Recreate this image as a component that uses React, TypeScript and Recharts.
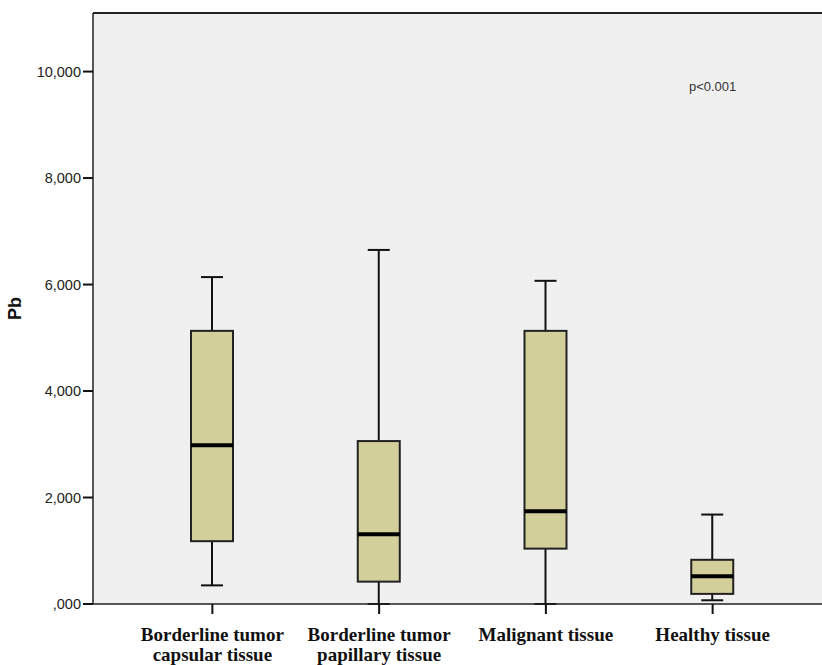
import React from "react";
import { Bar, CartesianGrid, ComposedChart, ReferenceDot, ReferenceLine, XAxis, YAxis } from "recharts";

// one entry per tissue group, label lines split on "\n"
const categories = [
    "Borderline tumor\ncapsular tissue",
    "Borderline tumor\npapillary tissue",
    "Malignant tissue",
    "Healthy tissue",
];
const mins = [0.35, 0, 0, 0.07];
const q1s = [1.18, 0.42, 1.04, 0.19];
const medians = [2.98, 1.31, 1.74, 0.52];
const q3s = [5.13, 3.06, 5.13, 0.83];
const maxs = [6.14, 6.65, 6.07, 1.68];

const yTicks = [0, 2, 4, 6, 8, 10];
const yMax = 11.1;

const data = categories.map((name, i) => ({
    name,
    min: mins[i],
    q1: q1s[i],
    median: medians[i],
    q3: q3s[i],
    max: maxs[i],
    range: [mins[i], maxs[i]],
}));

const fmt = (v: number) => v.toFixed(3).replace(".", ",").replace(/^0/, "");

const BoxShape = (props: any) => {
    const { x, y, width, height, payload } = props;
    const top = Math.min(y, y + height);
    const h = Math.abs(height);
    const span = payload.max - payload.min;
    const k = span > 0 ? h / span : 0;
    const py = (v: number) => top + (payload.max - v) * k;
    const cx = x + width / 2;
    const bw = 42;
    const cw = 22;
    return (
        <g>
            <line x1={cx} x2={cx} y1={py(payload.max)} y2={py(payload.q3)} stroke="#111" strokeWidth={2} />
            <line x1={cx} x2={cx} y1={py(payload.q1)} y2={py(payload.min)} stroke="#111" strokeWidth={2} />
            <line x1={cx - cw / 2} x2={cx + cw / 2} y1={py(payload.max)} y2={py(payload.max)} stroke="#111" strokeWidth={2} />
            <line x1={cx - cw / 2} x2={cx + cw / 2} y1={py(payload.min)} y2={py(payload.min)} stroke="#111" strokeWidth={2} />
            <rect
                x={cx - bw / 2}
                y={py(payload.q3)}
                width={bw}
                height={py(payload.q1) - py(payload.q3)}
                fill="#d3cf9b"
                stroke="#222"
                strokeWidth={2}
            />
            <line x1={cx - bw / 2} x2={cx + bw / 2} y1={py(payload.median)} y2={py(payload.median)} stroke="#000" strokeWidth={4} />
        </g>
    );
};

const CategoryTick = (props: any) => {
    const { x, y, payload } = props;
    const lines = String(payload.value).split("\n");
    return (
        <text
            x={x}
            y={y}
            textAnchor="middle"
            fontFamily="'Liberation Serif', 'Times New Roman', serif"
            fontWeight="bold"
            fontSize={19}
            fill="#111"
        >
            {lines.map((line, i) => (
                <tspan key={i} x={x} dy={i === 0 ? 25 : 20}>
                    {line}
                </tspan>
            ))}
        </text>
    );
};

export default function App() {
    return (
        <div style={{ position: "absolute", left: 0, top: 0 }}>
            <ComposedChart
                width={822}
                height={665}
                data={data}
                margin={{ top: 13, right: 0, left: 0, bottom: 0 }}
            >
                <CartesianGrid fill="#f0f0f0" horizontal={false} vertical={false} />
                <XAxis
                    dataKey="name"
                    height={61}
                    padding={{ left: 36, right: 26 }}
                    axisLine={{ stroke: "#222", strokeWidth: 1.5 }}
                    tickLine={{ stroke: "#111", strokeWidth: 2 }}
                    tickSize={10}
                    tick={<CategoryTick />}
                    interval={0}
                />
                <YAxis
                    domain={[0, yMax]}
                    ticks={yTicks}
                    tickFormatter={fmt}
                    width={93}
                    axisLine={{ stroke: "#222", strokeWidth: 1.5 }}
                    tickLine={{ stroke: "#111", strokeWidth: 2 }}
                    tickSize={10}
                    tick={{ fontSize: 14.5, fill: "#222", fontFamily: "'Liberation Sans', Arial, sans-serif" }}
                    label={{
                        value: "Pb",
                        angle: -90,
                        position: "insideLeft",
                        offset: 15,
                        style: { fontSize: 18, fontWeight: "bold", fill: "#111", fontFamily: "'Liberation Sans', Arial, sans-serif", textAnchor: "middle" },
                    }}
                />
                <ReferenceLine y={yMax} stroke="#222" strokeWidth={2} />
                <ReferenceDot
                    x={categories[3]}
                    y={9.72}
                    r={0}
                    fill="none"
                    stroke="none"
                    label={{
                        value: "p<0.001",
                        position: "center",
                        style: { fontSize: 13, fill: "#333", fontFamily: "'Liberation Sans', Arial, sans-serif" },
                    }}
                />
                <Bar dataKey="range" barSize={42} shape={<BoxShape />} isAnimationActive={false} />
            </ComposedChart>
        </div>
    );
}
